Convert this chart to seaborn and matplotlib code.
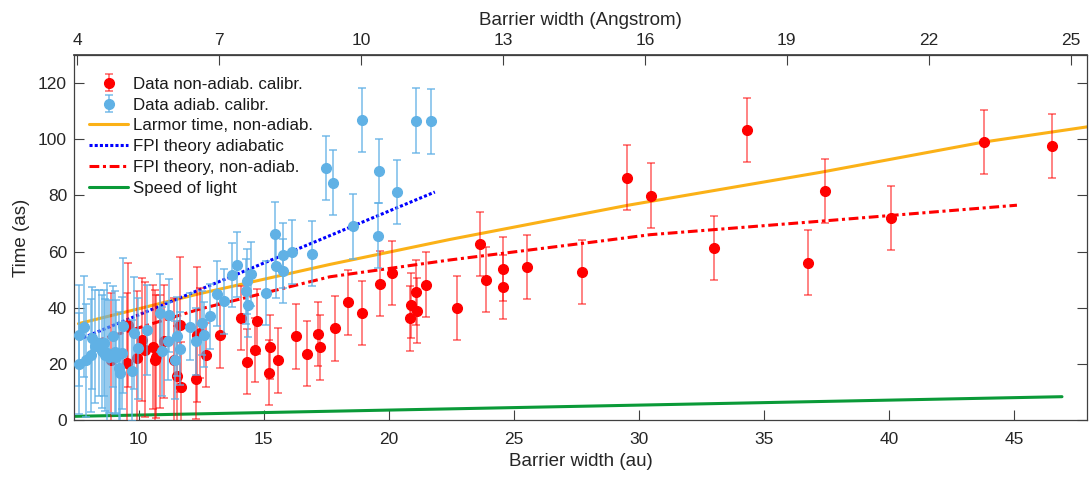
import matplotlib
matplotlib.use("Agg")
import matplotlib.pyplot as plt
import seaborn as sns
from matplotlib.lines import Line2D

# ---------------- data ----------------
red_x = [8.91, 9.53, 9.57, 9.93, 10.15, 10.24, 10.57, 10.64, 10.71, 10.84,
         11.0, 11.4, 11.53, 11.64, 11.69, 12.31, 12.33, 12.47, 12.71, 13.27,
         14.11, 14.32, 14.66, 14.74, 15.21, 15.27, 15.58, 16.28, 16.73, 17.17,
         17.27, 17.84, 18.37, 18.93, 19.64, 20.11, 20.83, 20.90, 21.07, 21.13,
         21.48, 22.73, 23.64, 23.87, 24.55, 24.55, 25.53, 27.73, 29.50, 30.49,
         33.0, 34.33, 36.77, 37.45, 40.08, 43.77, 46.52]
red_y = [21.2, 20.3, 33.9, 22.0, 28.6, 25.0, 26.0, 21.2, 22.6, 24.4,
         28.0, 21.4, 15.5, 33.9, 11.9, 14.5, 30.4, 31.0, 23.2, 30.1,
         36.4, 20.8, 25.0, 35.1, 16.9, 26.0, 21.2, 29.8, 23.6, 30.6,
         25.9, 32.6, 41.9, 38.1, 48.6, 52.4, 36.2, 40.8, 45.5, 39.0,
         48.2, 39.9, 62.7, 50.0, 53.8, 47.3, 54.5, 52.7, 86.3, 79.9,
         61.3, 103.3, 56.0, 81.5, 72.0, 99.0, 97.6]
red_err = [24, 25, 22, 24, 22, 24, 22, 25, 22, 20,
           20, 22, 18, 24, 16, 14, 24, 16, 11.5, 11.5,
           11.5, 11.5, 11.5, 11.5, 11.5, 11.5, 11.5, 11.5, 11.5, 11.5,
           11.5, 11.5, 11.5, 11.5, 11.5, 11.5, 11.5, 11.5, 11.5, 11.5,
           11.5, 11.5, 11.5, 11.5, 11.5, 11.5, 11.5, 11.5, 11.5, 11.5,
           11.5, 11.5, 11.5, 11.5, 11.5, 11.5, 11.5]

blue_x = [7.6, 7.6, 7.8, 7.9, 8.09, 8.13, 8.27, 8.4, 8.53, 8.63,
          8.67, 8.73, 8.8, 8.97, 9.07, 9.11, 9.2, 9.27, 9.33, 9.37,
          9.73, 9.8, 9.97, 10.33, 10.84, 10.93, 11.16, 11.2, 11.47, 11.53,
          11.67, 12.07, 12.31, 12.53, 12.6, 12.87, 13.13, 13.4, 13.73, 13.93,
          14.31, 14.33, 14.37, 14.51, 15.08, 15.44, 15.51, 15.77, 15.77, 16.15,
          16.93, 17.48, 17.78, 18.55, 18.92, 19.55, 19.6, 20.33, 21.1, 21.68]
blue_y = [30.1, 20.0, 33.3, 21.2, 23.0, 29.2, 26.2, 27.4, 24.4, 27.4,
          23.2, 23.8, 22.6, 29.8, 24.1, 22.6, 18.5, 16.7, 23.8, 33.6,
          17.5, 31.0, 25.6, 32.1, 38.1, 24.4, 28.2, 37.3, 21.4, 29.8,
          25.3, 33.3, 28.0, 34.5, 30.4, 36.9, 45.0, 42.3, 51.6, 55.3,
          45.8, 49.4, 41.1, 52.0, 45.2, 66.1, 55.0, 58.6, 53.0, 59.8,
          59.3, 89.8, 84.5, 69.0, 106.8, 65.7, 88.7, 81.2, 106.6, 106.4]
blue_err = [18, 18, 18, 20, 20, 18, 20, 19, 20, 19,
            20, 25, 20, 18, 22, 20, 20, 18, 20, 24,
            18, 20, 18, 16, 14, 16, 14, 13, 14, 14,
            13, 12, 12, 11.5, 11.5, 11.5, 11.5, 11.5, 11.5, 11.5,
            11.5, 11.5, 11.5, 11.5, 11.5, 11.5, 11.5, 11.5, 11.5, 11.5,
            11.5, 11.5, 11.5, 11.5, 11.5, 11.5, 11.5, 11.5, 11.5, 11.5]

larmor_x = [7.6, 12.44, 17.64, 22.44, 29.5, 37.24, 43.77, 47.9]
larmor_y = [34.3, 45.0, 55.4, 64.3, 76.4, 88.2, 99.0, 104.4]

fpi_ad_x = [7.6, 12.44, 21.84]
fpi_ad_y = [28.6, 46.4, 81.2]

fpi_nad_x = [8.24, 12.44, 17.64, 20.44, 22.44, 28.44, 30.44, 37.24, 45.1]
fpi_nad_y = [28.0, 39.5, 51.0, 54.5, 57.0, 63.7, 66.0, 70.8, 76.5]

light_x = [7.4, 46.9]
light_y = [1.3, 8.3]

labels = ["Data non-adiab. calibr.", "Data adiab. calibr.",
          "Larmor time, non-adiab.", "FPI theory adiabatic",
          "FPI theory, non-adiab.", "Speed of light"]

x_ticks = [10, 15, 20, 25, 30, 35, 40, 45]
y_ticks = [0, 20, 40, 60, 80, 100, 120]
ang_ticks = [4, 7, 10, 13, 16, 19, 22, 25]

# ---------------- style ----------------
sns.set_theme(style="ticks")
plt.rcParams["font.family"] = ["Liberation Sans", "DejaVu Sans"]

c_red = "#FF0000"
c_blue_pt = "#60B1E5"
c_orange = "#FBB117"
c_blue_line = "#0000FF"
c_green = "#0A9A38"
c_axis = "#262626"

fig = plt.figure(figsize=(10.91, 4.79), dpi=100)
ax = fig.add_axes([74 / 1091, 59 / 479, 1013 / 1091, 365 / 479])

dotted = (0, (1, 0.7))
dashdot = (0, (3.2, 1.2, 1, 1.2))

# theory lines
sns.lineplot(x=larmor_x, y=larmor_y, ax=ax, color=c_orange, linewidth=2.2,
             sort=False, estimator=None, legend=False, zorder=2)
sns.lineplot(x=fpi_ad_x, y=fpi_ad_y, ax=ax, color=c_blue_line, linewidth=2.2,
             sort=False, estimator=None, legend=False, zorder=2,
             linestyle=dotted)
sns.lineplot(x=fpi_nad_x, y=fpi_nad_y, ax=ax, color=c_red, linewidth=2.2,
             sort=False, estimator=None, legend=False, zorder=2,
             linestyle=dashdot)
sns.lineplot(x=light_x, y=light_y, ax=ax, color=c_green, linewidth=2.2,
             sort=False, estimator=None, legend=False, zorder=2)

# data with error bars
h_red = ax.errorbar(red_x, red_y, yerr=red_err, fmt="o", color=c_red,
                    ms=7.0, ecolor=(1, 0, 0, 0.62), elinewidth=1.1,
                    capsize=3.0, capthick=1.1, zorder=3)
h_blue = ax.errorbar(blue_x, blue_y, yerr=blue_err, fmt="o", color=c_blue_pt,
                     ms=7.0, ecolor=(0.38, 0.69, 0.9, 0.85),
                     elinewidth=1.1, capsize=3.0, capthick=1.1, zorder=4)

ax.set_xlim(7.42, 47.9)
ax.set_ylim(0, 130)
ax.set_xticks(x_ticks)
ax.set_yticks(y_ticks)
ax.set_xlabel("Barrier width (au)", fontsize=13.5, color=c_axis, labelpad=4)
ax.set_ylabel("Time (as)", fontsize=13.5, color=c_axis, labelpad=6)

for s in ax.spines.values():
    s.set_visible(True)
    s.set_color("#404040")
    s.set_linewidth(0.9)

ax.tick_params(axis="both", direction="in", length=7, width=0.8,
               colors="#404040", labelcolor=c_axis, labelsize=12.5)
ax.tick_params(axis="x", pad=9)
ax.tick_params(axis="y", right=True, pad=5)

sec = ax.secondary_xaxis("top", functions=(lambda v: v * 0.529177,
                                           lambda v: v / 0.529177))
sec.set_xticks(ang_ticks)
sec.tick_params(direction="in", length=7, width=0.8, colors="#404040",
                labelcolor=c_axis, labelsize=12.5, pad=5)
sec.set_xlabel("Barrier width (Angstrom)", fontsize=13.5, color=c_axis,
               labelpad=6)
sec.spines["top"].set_color("#404040")

handles = [h_red, h_blue,
           Line2D([], [], color=c_orange, lw=2.2),
           Line2D([], [], color=c_blue_line, lw=2.2, linestyle=dotted),
           Line2D([], [], color=c_red, lw=2.2, linestyle=dashdot),
           Line2D([], [], color=c_green, lw=2.2)]
leg = ax.legend(handles, labels, loc="upper left", frameon=False,
                fontsize=12.2, handlelength=2.3, handletextpad=0.3,
                labelspacing=0.34, borderaxespad=0.5,
                bbox_to_anchor=(0.0, 0.982))
for t in leg.get_texts():
    t.set_color("#1a1a1a")

fig.savefig("out.png", dpi=100)
